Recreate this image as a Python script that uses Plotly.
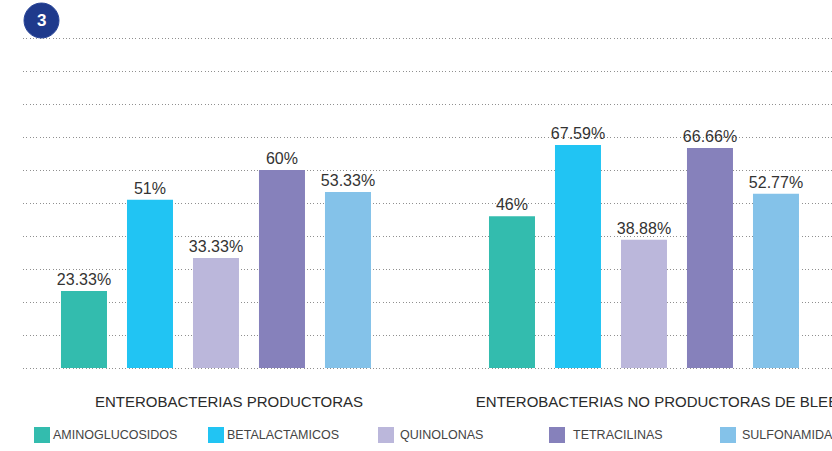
import plotly.graph_objects as go

# Categories, series and values
categories = ["ENTEROBACTERIAS PRODUCTORAS", "ENTEROBACTERIAS NO PRODUCTORAS DE BLEE"]
series_names = ["AMINOGLUCOSIDOS", "BETALACTAMICOS", "QUINOLONAS", "TETRACILINAS", "SULFONAMIDAS"]
aminoglucosidos = [23.33, 46]
betalactamicos = [51, 67.59]
quinolonas = [33.33, 38.88]
tetracilinas = [60, 66.66]
sulfonamidas = [53.33, 52.77]

series_values = [aminoglucosidos, betalactamicos, quinolonas, tetracilinas, sulfonamidas]
colors = ["#33bcae", "#21c4f3", "#bbb7db", "#8681bb", "#84c2e9"]

W, H = 832, 451
M_L, M_R, M_T, M_B = 23, 0, 36, 81
PLOT_W = W - M_L - M_R
PLOT_H = H - M_T - M_B
Y_PAD = 0.606  # keeps the 0 % and 100 % grid lines away from the clip edge
FONT = "Liberation Sans, Arial, sans-serif"


def paper_y(py):
    """Convert a pixel row (from the top of the figure) to paper units."""
    return (H - M_B - py) / PLOT_H


def paper_x(px):
    return (px - M_L) / PLOT_W


fig = go.Figure()
for name, vals, col in zip(series_names, series_values, colors):
    fig.add_trace(go.Bar(
        x=categories,
        y=vals,
        name=name,
        marker=dict(color=col, line=dict(width=0)),
        text=[f"{v:g}%" for v in vals],
        textposition="outside",
        constraintext="none",
        cliponaxis=False,
        textfont=dict(family=FONT, size=16, color="#333333"),
        showlegend=False,
        hoverinfo="skip",
    ))

# Legend drawn as swatches + labels along the bottom
legend_swatch_x = [34, 208, 378, 549, 720]
legend_text_x = [51, 225, 398, 571, 740]
shapes = []
annotations = []
for name, col, sx, tx in zip(series_names, colors, legend_swatch_x, legend_text_x):
    shapes.append(dict(
        type="rect", xref="paper", yref="paper",
        x0=paper_x(sx), x1=paper_x(sx + 16),
        y0=paper_y(443), y1=paper_y(427),
        fillcolor=col, line=dict(width=0), layer="above",
    ))
    annotations.append(dict(
        text=name, xref="paper", yref="paper",
        x=paper_x(tx), y=paper_y(435.5),
        xanchor="left", yanchor="middle", showarrow=False,
        font=dict(family=FONT, size=12.5, color="#444444"),
    ))

# Numbered badge in the top-left corner
badge_cx = paper_x(41.5)
badge_cy = paper_y(20.5)
shapes.append(dict(
    type="circle", xref="paper", yref="paper",
    xsizemode="pixel", ysizemode="pixel",
    xanchor=badge_cx, yanchor=badge_cy,
    x0=-17.5, x1=17.5, y0=-17.5, y1=17.5,
    fillcolor="#1f3a8c", line=dict(color="#2a4699", width=1), layer="above",
))
annotations.append(dict(
    text="<b>3</b>", xref="paper", yref="paper",
    x=badge_cx, y=badge_cy, xanchor="center", yanchor="middle", showarrow=False,
    font=dict(family=FONT, size=17, color="white"),
))

fig.update_layout(
    width=W, height=H, autosize=False,
    margin=dict(l=M_L, r=M_R, t=M_T, b=M_B, pad=0, autoexpand=False),
    paper_bgcolor="white", plot_bgcolor="white",
    barmode="group", bargap=0.229, bargroupgap=0.303,
    showlegend=False,
    shapes=shapes, annotations=annotations,
    xaxis=dict(
        type="category", range=[-0.4509, 1.4393], automargin=False,
        showgrid=False, zeroline=False, showline=False, ticks="",
        tickfont=dict(family=FONT, size=15, color="#2a2a2a"),
        ticklabelshift=13, ticklabelstandoff=21,
    ),
    yaxis=dict(
        range=[-Y_PAD, 100 + Y_PAD], dtick=10, showticklabels=False, automargin=False,
        showgrid=True, gridcolor="#8f8f8f", gridwidth=1, griddash="1px,2.3px",
        zeroline=False, showline=False, ticks="",
    ),
)

fig.write_html("out.html", config={"responsive": False})
